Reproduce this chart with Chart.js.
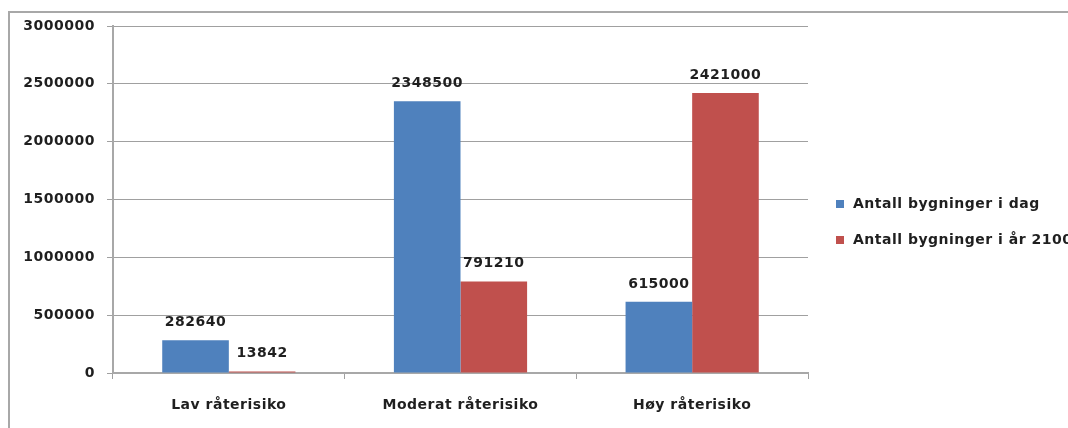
<!DOCTYPE html>
<html>
<head>
<meta charset="utf-8">
<script src="https://cdn.jsdelivr.net/npm/chart.js@4/dist/chart.umd.min.js"></script>
<style>
  html, body { margin: 0; padding: 0; background: #fff; overflow: hidden; }
  #wrap { width: 1068px; height: 428px; position: relative; }
</style>
</head>
<body>
<div id="wrap"><canvas id="barChart"></canvas></div>
<script>
const categories = ["Lav råterisiko", "Moderat råterisiko", "Høy råterisiko"];
const seriesNames = ["Antall bygninger i dag", "Antall bygninger i år 2100"];
const todayValues = [282640, 2348500, 615000];
const year2100Values = [13842, 791210, 2421000];
const yTicks = [0, 500000, 1000000, 1500000, 2000000, 2500000, 3000000];
const barColors = ["#4F81BD", "#C0504D"];

const textColor = "#1f1f1f";
const fontSpec = { family: "DejaVu Sans", size: 14, weight: "bold" };
const fontCss = "bold 14px 'DejaVu Sans'";
const spacing = "0.5px";

// outer frame like the copied Excel chart box, and wider text spacing
const framePlugin = {
  id: "frame",
  beforeInit(chart) { chart.ctx.letterSpacing = spacing; },
  beforeDraw(chart) {
    const ctx = chart.ctx;
    ctx.letterSpacing = spacing;
    ctx.save();
    ctx.strokeStyle = "#a8a8a8";
    ctx.lineWidth = 2;
    ctx.beginPath();
    ctx.moveTo(9, 428);
    ctx.lineTo(9, 12);
    ctx.lineTo(1068, 12);
    ctx.stroke();
    ctx.restore();
  }
};

// value labels above every bar
const valueLabels = {
  id: "valueLabels",
  afterDatasetsDraw(chart) {
    const ctx = chart.ctx;
    ctx.save();
    ctx.font = fontCss;
    ctx.fillStyle = textColor;
    ctx.textAlign = "center";
    ctx.textBaseline = "middle";
    chart.data.datasets.forEach((ds, i) => {
      chart.getDatasetMeta(i).data.forEach((bar, j) => {
        ctx.fillText(String(ds.data[j]), bar.x, bar.y - 18);
      });
    });
    ctx.restore();
  }
};

// legend on the right, running past the edge as in the original
const sideLegend = {
  id: "sideLegend",
  afterDraw(chart) {
    const ctx = chart.ctx;
    ctx.save();
    ctx.font = fontCss;
    ctx.textBaseline = "middle";
    chart.data.datasets.forEach((ds, i) => {
      const y = 204 + i * 36;
      ctx.fillStyle = ds.backgroundColor;
      ctx.fillRect(836, y - 4, 8, 8);
      ctx.fillStyle = textColor;
      ctx.fillText(ds.label, 853, y);
    });
    ctx.restore();
  }
};

new Chart("barChart", {
  type: "bar",
  data: {
    labels: categories,
    datasets: [
      { label: seriesNames[0], data: todayValues, backgroundColor: barColors[0] },
      { label: seriesNames[1], data: year2100Values, backgroundColor: barColors[1] }
    ]
  },
  options: {
    responsive: true,
    maintainAspectRatio: false,
    animation: false,
    layout: { padding: { left: 10, right: 260, top: 26, bottom: 10 } },
    datasets: { bar: { categoryPercentage: 0.575, barPercentage: 1 } },
    plugins: {
      legend: { display: false },
      tooltip: { enabled: false }
    },
    scales: {
      x: {
        grid: { drawOnChartArea: false, drawTicks: true, tickLength: 6, color: "#a0a0a0" },
        border: { color: "#a8a8a8", width: 2 },
        ticks: { color: textColor, font: fontSpec, padding: 18 },
        afterFit(s) { s.height = 45; }
      },
      y: {
        min: 0,
        max: 3000000,
        afterBuildTicks(s) { s.ticks = yTicks.map(v => ({ value: v })); },
        grid: { color: "#a0a0a0", lineWidth: 1, tickLength: 6 },
        border: { color: "#a8a8a8", width: 2 },
        ticks: { color: textColor, font: fontSpec, padding: 12, callback: v => String(v) },
        afterFit(s) { s.width = 103; }
      }
    }
  },
  plugins: [framePlugin, valueLabels, sideLegend]
});
</script>
</body>
</html>
